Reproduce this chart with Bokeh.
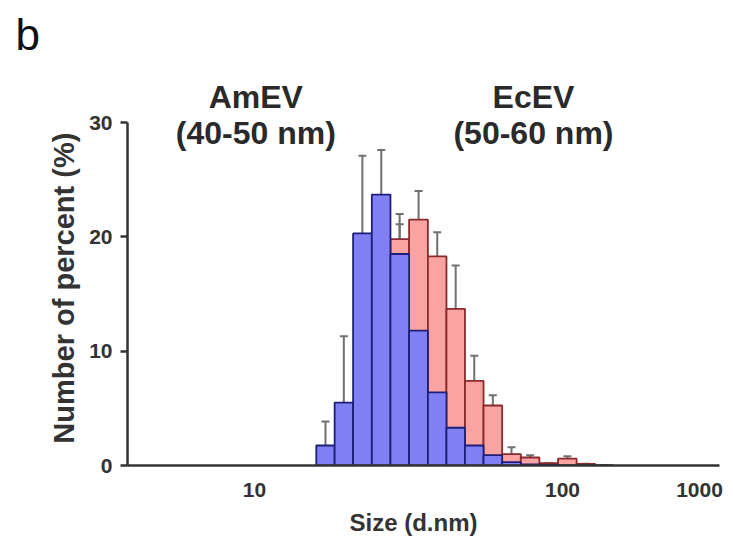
from bokeh.plotting import figure
from bokeh.models import (ColumnDataSource, Whisker, TeeHead, Label, FixedTicker,
                          Range1d)
from bokeh.embed import file_html
from bokeh.resources import INLINE
import numpy as np

# ---- data ----
size_nm = [17.0, 19.5, 22.4, 25.8, 29.6, 34.1, 39.2, 45.0, 51.7, 59.4,
           68.3, 78.5, 90.2, 103.7, 119.1, 136.9]
amev_pct = [1.75, 5.5, 20.3, 23.7, 18.5, 11.8, 6.4, 3.3, 1.75, 0.9,
            0.3, 0.1, 0.05, 0.0, 0.0, 0.0]
amev_err = [2.1, 5.8, 6.8, 3.9, 3.5, 3.6, 3.7, 3.0, 2.05, 1.1,
            0.3, 0.0, 0.0, 0.0, 0.0, 0.0]
ecev_pct = [0.0, 0.0, 2.5, 9.0, 19.8, 21.5, 18.3, 13.7, 7.4, 5.25,
            1.0, 0.7, 0.2, 0.6, 0.15, 0.0]
ecev_err = [0.0, 0.0, 0.0, 0.0, 1.3, 2.5, 2.1, 3.8, 2.2, 0.9,
            0.6, 0.2, 0.0, 0.2, 0.0, 0.0]
x_ticks = [10, 100, 278.5]
x_tick_labels = ["10", "100", "1000"]
y_ticks = [0, 10, 20, 30]

# bin edges (geometric midpoints between bin centres)
c = np.array(size_nm)
mid = np.sqrt(c[:-1] * c[1:])
left = np.concatenate([[c[0] ** 2 / mid[0]], mid])
right = np.concatenate([mid, [c[-1] ** 2 / mid[-1]]])

src_b = ColumnDataSource(dict(x=c, left=left, right=right, top=amev_pct,
                              up=np.array(amev_pct) + np.array(amev_err)))
src_r = ColumnDataSource(dict(x=c, left=left, right=right, top=ecev_pct,
                              up=np.array(ecev_pct) + np.array(ecev_err)))

FONT = "Liberation Sans"
AX = "#333333"
BLUE_F, BLUE_L = "#8080f2", "#1e1e78"
PINK_F, PINK_L = "#f9a3a3", "#8a2a2a"
ERR = "#707070"
NB = "\u00a0"

p = figure(width=725, height=541, x_axis_type="log",
           x_range=Range1d(3.87, 323.4), y_range=Range1d(0, 35.25),
           output_backend="svg", toolbar_location=None,
           min_border_left=127, min_border_right=6,
           min_border_top=62, min_border_bottom=76)
p.outline_line_color = None
p.grid.visible = False
p.background_fill_color = "white"

p.title.text = "b"
p.title.text_font = FONT
p.title.text_font_style = "normal"
p.title.text_font_size = "44px"
p.title.text_color = "#111111"
p.title.align = "left"
p.title.offset = -112
p.title.standoff = 8

p.quad(left="left", right="right", bottom=0, top="top", source=src_r,
       fill_color=PINK_F, line_color=PINK_L, line_width=1.8)
wr = Whisker(base="x", lower="top", upper="up", source=src_r, dimension="height",
             line_color=ERR, line_width=2, lower_head=None,
             upper_head=TeeHead(size=8, line_color=ERR, line_width=2))
p.add_layout(wr)
p.quad(left="left", right="right", bottom=0, top="top", source=src_b,
       fill_color=BLUE_F, line_color=BLUE_L, line_width=1.8)
wb = Whisker(base="x", lower="top", upper="up", source=src_b, dimension="height",
             line_color=ERR, line_width=2, lower_head=None,
             upper_head=TeeHead(size=8, line_color=ERR, line_width=2))
p.add_layout(wb)

# axes
xa = p.xaxis[0]
xa.ticker = FixedTicker(ticks=x_ticks, minor_ticks=[])
xa.major_label_overrides = {t: l for t, l in zip(x_ticks, x_tick_labels)}
xa.major_tick_out = 0
xa.major_tick_in = 0
xa.minor_tick_out = 0
xa.minor_tick_in = 0
xa.axis_line_color = AX
xa.axis_line_width = 2.5
xa.major_label_standoff = 17
xa.major_label_text_font = FONT
xa.major_label_text_font_style = "bold"
xa.major_label_text_font_size = "21px"
xa.major_label_text_color = AX
xa.axis_label = "Size (d.nm)" + NB * 3
xa.axis_label_text_font = FONT
xa.axis_label_text_font_style = "bold"
xa.axis_label_text_font_size = "24px"
xa.axis_label_text_color = AX
xa.axis_label_standoff = 9

ya = p.yaxis[0]
ya.ticker = FixedTicker(ticks=y_ticks, minor_ticks=[])
ya.bounds = (0, 30)
ya.major_tick_out = 7
ya.major_tick_in = 0
ya.minor_tick_out = 0
ya.major_tick_line_width = 2.5
ya.major_tick_line_color = AX
ya.axis_line_color = AX
ya.axis_line_width = 2.5
ya.major_label_standoff = 8
ya.major_label_text_font = FONT
ya.major_label_text_font_style = "bold"
ya.major_label_text_font_size = "21px"
ya.major_label_text_color = AX
ya.axis_label = "Number of percent (%)" + NB * 6
ya.axis_label_text_font = FONT
ya.axis_label_text_font_style = "bold"
ya.axis_label_text_font_size = "29px"
ya.axis_label_text_color = AX
ya.axis_label_standoff = 6

# annotations
def lab(txt, xv, yv, size, style="bold", align="center"):
    p.add_layout(Label(x=xv, y=yv, text=txt, text_font=FONT, text_font_style=style,
                       text_font_size=size, text_color="#2a2a2a",
                       text_align=align, text_baseline="middle"))

lab("AmEV", 10.1, 32.2, "32px")
lab("(40-50 nm)", 10.1, 29.1, "32px")
lab("EcEV", 80.5, 32.2, "32px")
lab("(50-60 nm)", 80.5, 29.1, "32px")

open("out.html", "w").write(file_html(p, INLINE))
